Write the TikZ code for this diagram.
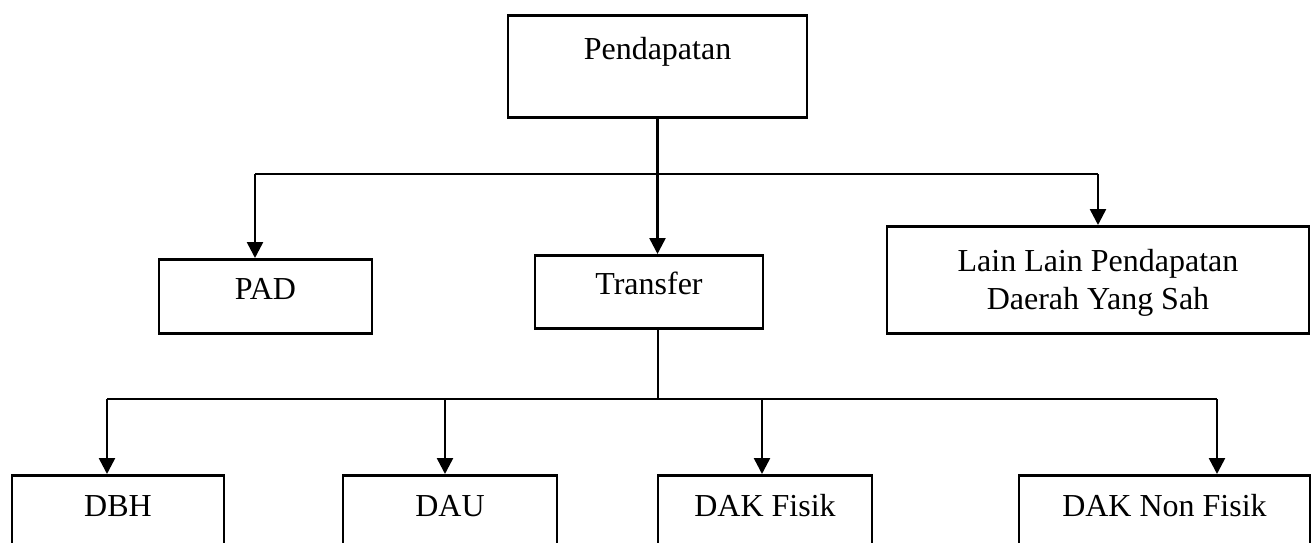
\documentclass[tikz,border=0pt]{standalone}
\usepackage{fontspec}
\setmainfont{Liberation Serif}
\usetikzlibrary{arrows.meta,positioning}
\tikzset{
  pdbox/.style={
    draw=black,
    fill=white,
    line width=2.2pt,
    inner sep=0pt,
    align=center,
    anchor=north,
    font=\fontsize{24}{28.5}\selectfont
  },
  pdmid/.style={pdbox,text height=30pt,text depth=25.5pt},
  pdlow/.style={pdbox,text height=30.75pt,text depth=60pt},
  pdflow/.style={-{Triangle[length=12pt,width=12pt]},draw=black,line width=1.9pt},
  pdbus/.style={draw=black,line width=0.9pt}
}
\begin{document}
\begin{tikzpicture}[x=0.75pt,y=-0.75pt]
  \useasboundingbox (0,0) rectangle (1315,543);
  % level 0
  \node[pdbox,minimum width=224.25pt,text height=33pt,text depth=43.5pt] (pendapatan) at (657.5,14) {Pendapatan};
  % level 1
  \node[pdmid,minimum width=159.75pt] (pad) at (265.5,258) {PAD};
  \node[pdmid,minimum width=171pt,text height=29.25pt] (transfer) at (649,254) {Transfer};
  \node[pdbox,minimum width=316.5pt,text height=62.25pt,text depth=18pt] (lain) at (1098,225) {Lain Lain Pendapatan\\Daerah Yang Sah};
  % level 2
  \node[pdlow,minimum width=159pt] (dbh) at (118,474) {DBH};
  \node[pdlow,minimum width=160.5pt] (dau) at (450,474) {DAU};
  \node[pdlow,minimum width=160.5pt] (dakf) at (765,474) {DAK Fisik};
  \node[pdlow,minimum width=218.25pt] (daknf) at (1164.5,474) {DAK Non Fisik};
  % bus joints
  \coordinate (topL) at (255,174);
  \coordinate (topR) at (1098,174);
  \coordinate (stem) at (658,399);
  \coordinate (lowA) at (107,399);
  \coordinate (lowB) at (445,399);
  \coordinate (lowC) at (762,399);
  \coordinate (lowD) at (1217,399);
  \draw[pdbus] (topL) -- (topR);
  \draw[pdflow] (pendapatan.south) -- (pendapatan.south |- transfer.north);
  \draw[pdflow] (topL) -- (topL |- pad.north);
  \draw[pdflow] (topR) -- (topR |- lain.north);
  \draw[pdbus] (stem |- transfer.south) -- (stem);
  \draw[pdbus] (lowA) -- (lowD);
  \draw[pdflow] (lowA) -- (lowA |- dbh.north);
  \draw[pdflow] (lowB) -- (lowB |- dau.north);
  \draw[pdflow] (lowC) -- (lowC |- dakf.north);
  \draw[pdflow] (lowD) -- (lowD |- daknf.north);
\end{tikzpicture}
\end{document}
